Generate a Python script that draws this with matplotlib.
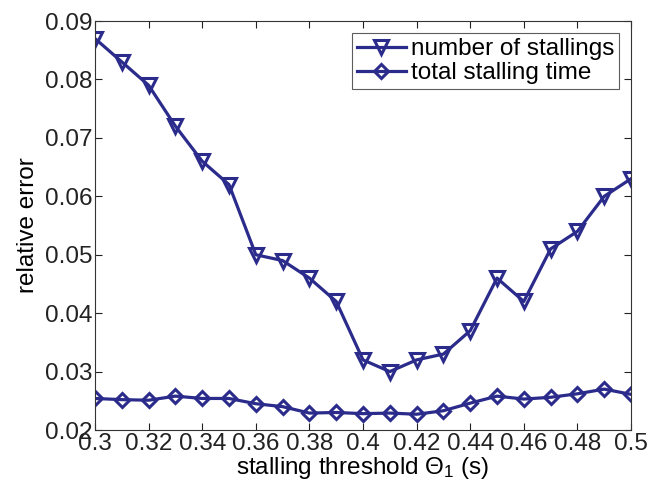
import matplotlib
matplotlib.use("Agg")
import matplotlib.pyplot as plt

plt.rcParams['font.family'] = ['Liberation Sans', 'DejaVu Sans']
plt.rcParams['mathtext.fontset'] = 'custom'
plt.rcParams['mathtext.rm'] = 'Liberation Sans'
plt.rcParams['mathtext.it'] = 'Liberation Sans:italic'

threshold = [0.30, 0.31, 0.32, 0.33, 0.34, 0.35, 0.36, 0.37, 0.38, 0.39, 0.40,
             0.41, 0.42, 0.43, 0.44, 0.45, 0.46, 0.47, 0.48, 0.49, 0.50]
num_stallings = [0.087, 0.083, 0.079, 0.072, 0.066, 0.062, 0.050, 0.049, 0.046, 0.042, 0.032,
                 0.030, 0.032, 0.033, 0.037, 0.046, 0.042, 0.051, 0.054, 0.060, 0.063]
total_stall_time = [0.0254, 0.0252, 0.0251, 0.0258, 0.0254, 0.0254, 0.0245, 0.0240, 0.0229, 0.0230, 0.0228,
                    0.0229, 0.0227, 0.0233, 0.0246, 0.0258, 0.0253, 0.0256, 0.0262, 0.0270, 0.0261]
xticks = [0.30, 0.32, 0.34, 0.36, 0.38, 0.40, 0.42, 0.44, 0.46, 0.48, 0.50]
xtick_labels = ['0.3', '0.32', '0.34', '0.36', '0.38', '0.4', '0.42', '0.44', '0.46', '0.48', '0.5']
yticks = [0.02, 0.03, 0.04, 0.05, 0.06, 0.07, 0.08, 0.09]

color = '#2b2b8c'
fs = 17.5

fig = plt.figure(figsize=(6.49, 4.91), dpi=100)
ax = fig.add_axes([0.1464, 0.1242, 0.8259, 0.833])

ax.plot(threshold, num_stallings, color=color, lw=2.3, marker='v', ms=10,
        mfc='none', mec=color, mew=2.2, label='number of stallings')
ax.plot(threshold, total_stall_time, color=color, lw=2.3, marker='D', ms=7.5,
        mfc='none', mec=color, mew=2.2, label='total stalling time')

ax.set_xlim(0.3, 0.5)
ax.set_ylim(0.02, 0.09)
ax.set_xticks(xticks)
ax.set_xticklabels(xtick_labels)
ax.set_yticks(yticks)
ax.set_yticklabels([f'{v:.2f}' for v in yticks])
ax.tick_params(direction='in', top=True, right=True, length=5, width=0.8,
               labelsize=fs, colors='#222222', pad=2)
for s in ax.spines.values():
    s.set_linewidth(0.8)
    s.set_color('#333333')

ax.set_xlabel(r'stalling threshold Θ$_1$ (s)', fontsize=fs, labelpad=0)
ax.set_ylabel('relative error', fontsize=fs, labelpad=4)

leg = ax.legend(loc='upper right', fontsize=fs, frameon=True, fancybox=False,
                edgecolor='#333333', handlelength=2.0, handletextpad=0.2,
                borderpad=0.2, labelspacing=0.1, borderaxespad=0.5)
leg.get_frame().set_linewidth(0.8)

fig.savefig('out.png', dpi=100)
